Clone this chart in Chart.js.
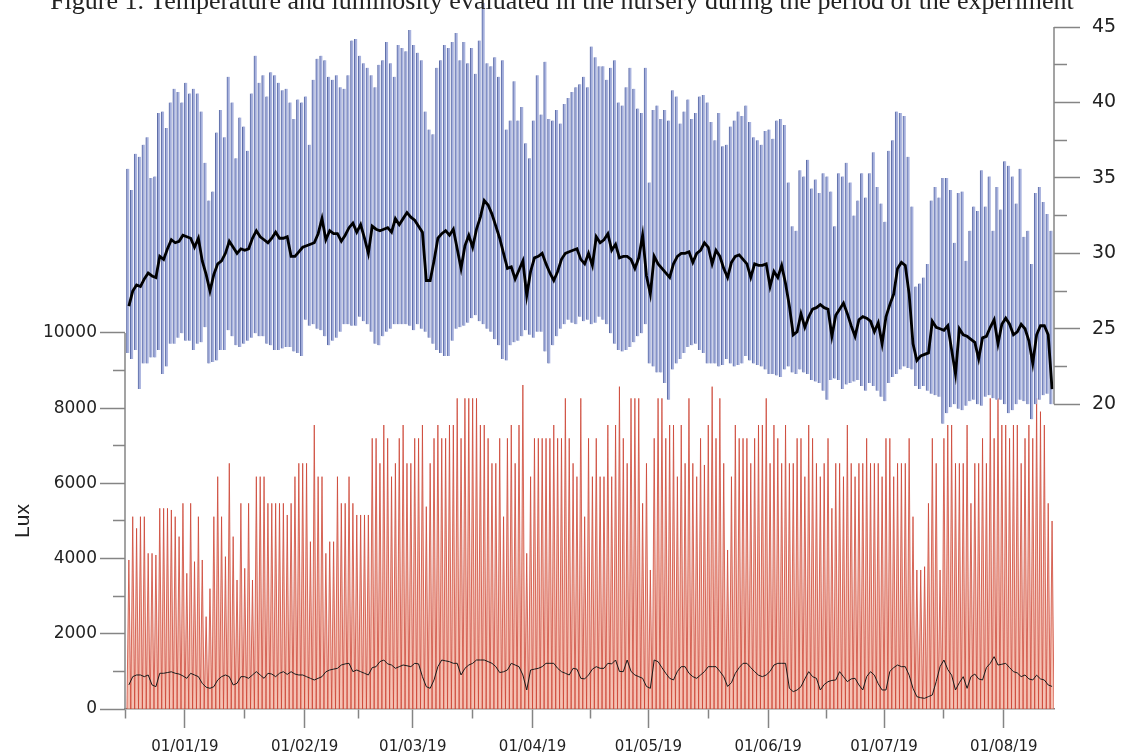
<!DOCTYPE html>
<html>
<head>
<meta charset="utf-8">
<script src="https://cdn.jsdelivr.net/npm/chart.js@4.4.1/dist/chart.umd.min.js"></script>
<style>
  body { margin: 0; background: #fff; }
  #wrap { position: relative; width: 1124px; height: 756px; overflow: hidden; }
  #chart { position: absolute; left: 0; top: 0; }
  #caption {
    position: absolute; top: -14px; left: 0; width: 1124px;
    text-align: center; font: 26px "Liberation Serif", serif; line-height: 30px; color: #222;
  }
</style>
</head>
<body>
<div id="wrap">
  <canvas id="chart" width="1124" height="756"></canvas>
  <div id="caption">Figure 1. Temperature and luminosity evaluated in the nursery during the period of the experiment</div>
</div>
<script>
// days are counted from 01/01/19, first reading is 17/12/18
const firstDay = -15;
const monthStarts = [-31, 0, 31, 59, 90, 120, 151, 181, 212, 243];
const monthLabels = ['01/12/18', '01/01/19', '01/02/19', '01/03/19', '01/04/19',
  '01/05/19', '01/06/19', '01/07/19', '01/08/19', '01/09/19'];
const luxTicks = [0, 1000, 2000, 3000, 4000, 5000, 6000, 7000, 8000, 9000, 10000];
const tempTicks = [20, 22.5, 25, 27.5, 30, 32.5, 35, 37.5, 40, 42.5, 45];

// daily temperature (°C)
const tempMax = [
  35.6, 34.2, 36.6, 36.4, 37.2, 37.7, 35.0, 35.1, 39.3, 39.4,
  38.3, 40.0, 40.9, 40.7, 40.0, 41.3, 40.6, 40.9, 40.6, 39.4,
  36.0, 33.5, 34.1, 38.0, 39.5, 37.7, 41.7, 40.0, 36.3, 39.0,
  38.4, 36.8, 40.6, 43.1, 41.3, 41.8, 40.4, 42.0, 41.8, 41.3,
  40.8, 40.9, 40.0, 38.9, 40.2, 40.0, 40.4, 37.2, 41.5, 42.9,
  43.1, 42.8, 41.7, 41.5, 41.8, 41.0, 40.9, 41.8, 44.1, 44.2,
  43.1, 42.6, 42.3, 41.8, 41.0, 42.5, 42.8, 44.0, 42.6, 41.7,
  43.8, 43.6, 43.4, 44.8, 43.8, 43.3, 42.8, 39.4, 38.2, 37.9,
  42.3, 42.8, 43.8, 43.6, 44.0, 44.6, 42.8, 44.0, 42.6, 43.6,
  41.9, 44.1, 46.6, 42.6, 42.4, 43.0, 41.7, 42.8, 38.2, 38.8,
  41.4, 38.8, 39.7, 37.3, 36.3, 38.8, 41.8, 39.2, 42.7, 38.9,
  38.8, 39.5, 38.6, 39.9, 40.3, 40.7, 41.0, 41.2, 41.7, 41.0,
  43.7, 43.0, 42.4, 42.4, 41.5, 42.3, 42.8, 40.0, 39.8, 41.0,
  42.3, 40.9, 39.6, 39.3, 42.3, 34.7, 39.5, 39.8, 38.9, 39.5,
  38.8, 40.8, 40.4, 38.6, 39.4, 40.2, 38.9, 39.3, 40.4, 40.5,
  40.0, 38.7, 37.5, 39.3, 37.1, 37.2, 38.4, 38.8, 39.4, 39.1,
  39.8, 38.7, 37.7, 37.5, 37.2, 38.1, 38.2, 37.6, 38.8, 38.9,
  38.5, 34.7, 31.8, 31.5, 35.5, 35.1, 36.2, 34.3, 34.9, 34.0,
  35.3, 35.1, 34.1, 31.8, 35.3, 35.1, 36.0, 34.7, 32.5, 33.5,
  35.3, 33.7, 35.3, 36.7, 34.4, 33.3, 32.1, 36.8, 37.5, 39.4,
  39.3, 39.1, 36.4, 33.1, 27.8, 28.0, 28.4, 29.3, 33.5, 34.4,
  33.7, 35.0, 35.0, 34.2, 30.7, 34.0, 34.1, 29.5, 31.5, 33.1,
  32.8, 35.5, 33.1, 35.1, 31.5, 34.4, 32.9, 36.1, 35.8, 35.1,
  33.3, 35.6, 31.1, 31.5, 29.3, 34.0, 34.4, 33.4, 32.6, 31.5
];
const tempMin = [
  23.4, 23.0, 23.6, 21.0, 22.7, 22.7, 23.1, 23.1, 23.6, 22.0,
  22.5, 24.0, 24.0, 24.4, 24.7, 24.2, 24.2, 23.6, 24.0, 24.1,
  25.1, 22.7, 22.8, 22.9, 23.6, 23.6, 24.9, 24.5, 23.9, 23.8,
  24.0, 24.2, 24.4, 24.7, 24.5, 24.5, 24.0, 23.9, 23.6, 23.6,
  23.7, 23.8, 23.8, 23.5, 23.4, 23.2, 25.6, 25.2, 25.3, 25.0,
  24.9, 24.5, 23.9, 24.2, 24.4, 24.8, 25.3, 25.3, 25.2, 25.2,
  25.8, 25.5, 25.3, 24.8, 24.0, 23.9, 24.5, 24.8, 25.0, 25.3,
  25.3, 25.3, 25.3, 25.2, 24.9, 25.3, 25.0, 24.8, 24.4, 24.0,
  23.6, 23.4, 23.2, 23.2, 24.2, 25.0, 25.1, 25.2, 25.4, 25.7,
  25.9, 25.5, 25.3, 25.0, 24.8, 24.3, 23.9, 23.0, 22.9, 23.9,
  24.1, 24.2, 24.5, 24.9, 24.6, 24.4, 24.8, 24.8, 23.5, 22.7,
  23.9, 24.5, 25.0, 25.3, 25.6, 25.4, 25.3, 25.8, 25.5, 25.6,
  25.3, 25.4, 25.8, 25.6, 25.3, 24.7, 24.0, 23.6, 23.5, 23.6,
  23.8, 24.1, 24.5, 24.7, 25.3, 22.7, 22.5, 22.1, 22.1, 21.4,
  20.3, 22.3, 22.7, 23.0, 23.4, 23.8, 23.9, 24.0, 23.6, 23.4,
  22.7, 22.7, 22.7, 22.5, 22.6, 23.0, 22.7, 22.5, 22.6, 22.7,
  23.2, 22.9, 22.7, 22.6, 22.5, 22.3, 22.0, 22.0, 21.9, 21.8,
  22.3, 22.5, 22.1, 22.0, 22.3, 22.1, 22.0, 21.6, 21.5, 21.4,
  20.9, 20.3, 21.6, 21.7, 21.6, 21.0, 21.3, 21.4, 21.5, 21.6,
  21.2, 20.9, 21.4, 21.2, 20.9, 20.5, 20.2, 21.4, 21.8, 22.0,
  22.3, 22.5, 22.4, 22.3, 21.2, 21.0, 21.2, 20.9, 20.7, 20.6,
  20.5, 18.7, 19.4, 19.8, 20.0, 19.7, 19.6, 19.9, 20.2, 20.3,
  20.0, 19.9, 20.5, 20.6, 20.4, 20.3, 20.3, 20.0, 19.4, 19.6,
  20.0, 20.3, 20.2, 20.0, 19.0, 20.0, 20.3, 20.6, 20.7, 20.0
];
const tempMean = [
  26.5, 27.5, 27.9, 27.8, 28.3, 28.7, 28.5, 28.4, 29.8, 29.6,
  30.3, 30.9, 30.7, 30.8, 31.2, 31.1, 31.0, 30.4, 31.0, 29.5,
  28.6, 27.5, 28.6, 29.3, 29.5, 30.0, 30.8, 30.4, 30.0, 30.3,
  30.2, 30.3, 31.0, 31.5, 31.1, 30.9, 30.7, 31.0, 31.4, 31.0,
  31.0, 31.1, 29.8, 29.8, 30.1, 30.4, 30.5, 30.6, 30.7, 31.3,
  32.3, 30.9, 31.5, 31.3, 31.3, 30.8, 31.2, 31.7, 32.0, 31.4,
  31.9, 31.0, 30.0, 31.8, 31.6, 31.5, 31.6, 31.7, 31.4, 32.3,
  31.9, 32.3, 32.7, 32.4, 32.2, 31.8, 31.4, 28.2, 28.2, 29.5,
  31.0, 31.3, 31.5, 31.2, 31.6, 30.3, 29.0, 30.5, 31.2, 30.4,
  31.6, 32.4, 33.5, 33.2, 32.6, 31.8, 31.0, 30.0, 29.0, 29.1,
  28.3, 28.9, 29.5, 27.2, 28.8, 29.7, 29.8, 30.0, 29.3, 28.7,
  28.2, 28.8, 29.6, 30.0, 30.1, 30.2, 30.3, 29.6, 29.3, 30.0,
  29.2, 31.1, 30.7, 30.9, 31.3, 30.2, 30.6, 29.7, 29.8, 29.8,
  29.6, 29.0, 29.7, 31.2, 28.5, 27.3, 29.8, 29.3, 29.0, 28.7,
  28.4, 29.3, 29.8, 30.0, 30.0, 30.1, 29.4, 30.0, 30.2, 30.7,
  30.4, 29.3, 30.2, 29.8, 29.0, 28.4, 29.4, 29.8, 29.9, 29.6,
  29.3, 28.4, 29.3, 29.2, 29.2, 29.3, 27.8, 28.8, 28.4, 29.2,
  28.0, 26.5, 24.6, 24.8, 26.0, 25.1, 25.8, 26.3, 26.4, 26.6,
  26.4, 26.3, 24.5, 25.9, 26.3, 26.7, 26.0, 25.2, 24.5, 25.6,
  25.8, 25.7, 25.5, 24.8, 25.4, 24.0, 25.8, 26.6, 27.3, 29.0,
  29.4, 29.2, 27.3, 24.0, 22.9, 23.2, 23.3, 23.4, 25.5, 25.1,
  25.0, 24.9, 25.2, 23.6, 22.0, 25.0, 24.6, 24.5, 24.3, 24.1,
  23.0, 24.4, 24.5, 25.1, 25.6, 24.0, 25.3, 25.7, 25.3, 24.6,
  24.8, 25.3, 25.0, 24.2, 22.7, 24.6, 25.2, 25.2, 24.6, 21.0
];

// daily luminosity (lux)
const luxPeak = [
  3963, 5115, 4805, 5115, 5115, 4140, 4140, 4096, 5337, 5337,
  5337, 5293, 5115, 4584, 5470, 3608, 5470, 3919, 5115, 3963,
  2456, 3200, 5115, 6179, 5115, 4052, 6534, 4584, 3431, 5470,
  3741, 5470, 3431, 6179, 6179, 6179, 5470, 5470, 5470, 5470,
  5470, 5160, 5470, 6179, 6534, 6534, 6534, 4450, 7553, 6179,
  6179, 4140, 4450, 4450, 6179, 5470, 5470, 6179, 5470, 5160,
  5160, 5160, 5160, 7199, 7199, 6534, 7553, 7199, 6179, 6534,
  7199, 7553, 6534, 6534, 7199, 7199, 7553, 5381, 6534, 7199,
  7553, 7199, 7199, 7553, 7553, 8262, 7199, 8262, 8262, 8262,
  8262, 7553, 7553, 7199, 6534, 6534, 7199, 5115, 7199, 7553,
  6534, 7553, 8617, 4140, 6179, 7199, 7199, 7199, 7199, 7199,
  7553, 7199, 7199, 8262, 7199, 6534, 6179, 8262, 5115, 7199,
  6179, 7199, 6179, 6179, 7553, 6179, 7553, 8573, 7199, 6534,
  8262, 8262, 8262, 5470, 6534, 3697, 7199, 8262, 8262, 7199,
  7553, 7553, 6179, 7553, 6534, 8262, 6534, 6179, 7199, 6490,
  7553, 8573, 7199, 8262, 6534, 4229, 6179, 7553, 7199, 7199,
  7199, 6534, 7199, 7553, 7553, 8262, 6534, 7553, 7199, 6534,
  7553, 6534, 6534, 7199, 7199, 6179, 7553, 7199, 6534, 6179,
  6534, 7199, 5337, 6534, 6534, 6179, 7553, 6534, 6179, 6534,
  6534, 7199, 6534, 6534, 6534, 6179, 7199, 7199, 6179, 6534,
  6534, 6534, 7199, 5115, 3697, 3697, 3786, 5470, 7199, 6534,
  3697, 7199, 7553, 7553, 6534, 6534, 6534, 7553, 5470, 6534,
  6534, 7199, 6534, 8262, 7199, 8262, 7553, 7553, 7199, 7553,
  7553, 6534, 7199, 7553, 7199, 8262, 7908, 7553, 5470, 5000
];
const luxMean = [
  640, 860, 905, 905, 860, 905, 640, 594, 950, 950,
  970, 990, 950, 930, 880, 816, 949, 905, 860, 683,
  580, 550, 594, 772, 860, 905, 860, 639, 683, 860,
  860, 816, 905, 993, 905, 816, 949, 930, 860, 950,
  993, 920, 993, 930, 905, 905, 860, 816, 772, 816,
  860, 990, 1037, 1060, 1082, 1170, 1200, 1215, 993, 1037,
  993, 950, 905, 1100, 1126, 1260, 1303, 1200, 1170, 1082,
  1126, 1170, 1150, 1126, 1215, 1200, 860, 594, 550, 772,
  1126, 1303, 1280, 1259, 1215, 1215, 905, 1082, 1170, 1215,
  1303, 1303, 1303, 1260, 1215, 1126, 970, 990, 1037, 1215,
  1170, 1126, 905, 506, 1037, 1060, 1082, 1126, 1215, 1215,
  1215, 1082, 993, 950, 905, 1082, 1060, 816, 800, 905,
  1060, 1126, 1082, 1082, 1215, 1200, 1303, 1000, 993, 1303,
  1000, 905, 860, 816, 600, 550, 1303, 1259, 1100, 949,
  816, 772, 1000, 1126, 1126, 950, 860, 816, 905, 993,
  1126, 1126, 1126, 1000, 860, 600, 700, 949, 1100, 1215,
  1215, 1100, 993, 900, 860, 905, 1000, 1170, 1215, 1215,
  1215, 550, 461, 506, 594, 800, 993, 860, 816, 506,
  650, 727, 760, 772, 993, 860, 727, 800, 816, 640,
  506, 860, 993, 900, 670, 506, 506, 1000, 1100, 1170,
  1126, 1126, 900, 550, 328, 300, 284, 330, 373, 727,
  1126, 1303, 1050, 900, 506, 700, 860, 550, 860, 930,
  800, 772, 1100, 1215, 1392, 1170, 1190, 1215, 1100, 993,
  960, 860, 905, 800, 772, 900, 800, 772, 639, 600
];

const axisColor = '#858585';
const textColor = '#222';

// one floating bar per day, from night minimum to afternoon maximum
const tempRange = tempMin.map((lo, i) => ({ x: firstDay + i + 0.25, y: [lo, tempMax[i]] }));
// lux goes back to zero every night
const luxTrace = [];
luxPeak.forEach((hi, i) => {
  luxTrace.push({ x: firstDay + i, y: 0 });
  luxTrace.push({ x: firstDay + i + 0.5, y: hi });
});
luxTrace.push({ x: firstDay + luxPeak.length, y: 0 });
const tempMeanPts = tempMean.map((v, i) => ({ x: firstDay + i + 0.5, y: v }));
const luxMeanPts = luxMean.map((v, i) => ({ x: firstDay + i + 0.5, y: v }));

const isMonth = v => monthStarts.includes(v);

// axis lines only over the labelled ranges, plus the Lux title
const axisSpans = {
  id: 'axisSpans',
  afterDraw(chart) {
    const { ctx, chartArea, scales } = chart;
    const lux = scales.lux, temp = scales.temp;
    ctx.save();
    ctx.strokeStyle = axisColor;
    ctx.lineWidth = 1.5;
    ctx.beginPath();
    ctx.moveTo(chartArea.left, lux.getPixelForValue(luxTicks[0]));
    ctx.lineTo(chartArea.left, lux.getPixelForValue(luxTicks[luxTicks.length - 1]));
    ctx.moveTo(chartArea.right, temp.getPixelForValue(tempTicks[0]));
    ctx.lineTo(chartArea.right, temp.getPixelForValue(tempTicks[tempTicks.length - 1]));
    ctx.stroke();
    ctx.translate(lux.left + 23, lux.getPixelForValue(5000));
    ctx.rotate(-Math.PI / 2);
    ctx.font = '21px "Liberation Sans", Arial, sans-serif';
    ctx.fillStyle = textColor;
    ctx.textAlign = 'center';
    ctx.textBaseline = 'middle';
    ctx.fillText('Lux', 0, 0);
    ctx.restore();
  }
};

new Chart(document.getElementById('chart'), {
  type: 'line',
  data: {
    datasets: [
      {
        data: tempMeanPts, yAxisID: 'temp',
        borderColor: '#000', borderWidth: 2.8, pointRadius: 0, fill: false
      },
      {
        data: luxMeanPts, yAxisID: 'lux',
        borderColor: '#1a1a1a', borderWidth: 1, pointRadius: 0, fill: false
      },
      {
        type: 'bar', data: tempRange, yAxisID: 'temp', clip: false,
        barThickness: 2.9, backgroundColor: 'rgba(160, 171, 218, 0.9)',
        borderColor: 'rgba(64, 82, 152, 0.85)', borderSkipped: false,
        borderWidth: { left: 1, right: 0, top: 0, bottom: 0 }
      },
      {
        data: luxTrace, yAxisID: 'lux',
        borderColor: 'rgba(204, 66, 50, 0.85)', borderWidth: 0.9, pointRadius: 0,
        fill: 'origin', backgroundColor: 'rgba(240, 160, 138, 0.65)'
      }
    ]
  },
  options: {
    responsive: false,
    devicePixelRatio: 1,
    animation: false,
    events: [],
    layout: { padding: { top: 27, left: 0, right: 0, bottom: 0 } },
    plugins: { legend: { display: false }, tooltip: { enabled: false } },
    scales: {
      x: {
        type: 'linear', min: -15.5, max: 225, offset: false,
        afterFit: s => { s.height = 47; },
        afterBuildTicks: s => {
          const t = [];
          monthStarts.forEach((m, k) => {
            if (m >= s.min && m <= s.max) t.push({ value: m });
            const next = monthStarts[k + 1];
            if (next !== undefined) {
              const mid = (m + next) / 2;
              if (mid >= s.min && mid <= s.max) t.push({ value: mid });
            }
          });
          s.ticks = t.sort((a, b) => a.value - b.value);
        },
        ticks: {
          autoSkip: false, maxRotation: 0, padding: 10, color: textColor,
          font: { family: '"DejaVu Sans", sans-serif', size: 15 },
          callback: v => { const k = monthStarts.indexOf(v); return k >= 0 ? monthLabels[k] : ''; }
        },
        grid: {
          drawOnChartArea: false, offset: false, tickLength: 19, tickColor: axisColor, tickWidth: 1.5,
          tickBorderDash: c => (c.tick && !isMonth(c.tick.value)) ? [9, 40] : []
        },
        border: { display: true, color: axisColor, width: 1.5 }
      },
      lux: {
        type: 'linear', position: 'left', min: 0, max: 18138,
        afterFit: s => { s.width = 125; },
        afterBuildTicks: s => { s.ticks = luxTicks.map(v => ({ value: v })); },
        ticks: {
          autoSkip: false, padding: 3, color: textColor,
          font: { family: '"DejaVu Sans", sans-serif', size: 17 },
          callback: v => (v % 2000 === 0 ? String(v) : '')
        },
        grid: {
          drawOnChartArea: false, tickLength: 25, tickColor: axisColor, tickWidth: 1.5,
          tickBorderDash: c => (c.tick && c.tick.value % 2000 !== 0) ? [0, 13, 12, 40] : []
        },
        border: { display: false }
      },
      temp: {
        type: 'linear', position: 'right', min: -0.2, max: 45,
        afterFit: s => { s.width = 70; },
        afterBuildTicks: s => { s.ticks = tempTicks.map(v => ({ value: v })); },
        ticks: {
          autoSkip: false, padding: 12, color: textColor,
          font: { family: '"DejaVu Sans", sans-serif', size: 19 },
          callback: v => (v % 5 === 0 ? String(v) : '')
        },
        grid: {
          drawOnChartArea: false, tickLength: 26, tickColor: axisColor, tickWidth: 1.5,
          tickBorderDash: c => (c.tick && c.tick.value % 5 !== 0) ? [13, 40] : []
        },
        border: { display: false }
      }
    }
  },
  plugins: [axisSpans]
});
</script>
</body>
</html>
